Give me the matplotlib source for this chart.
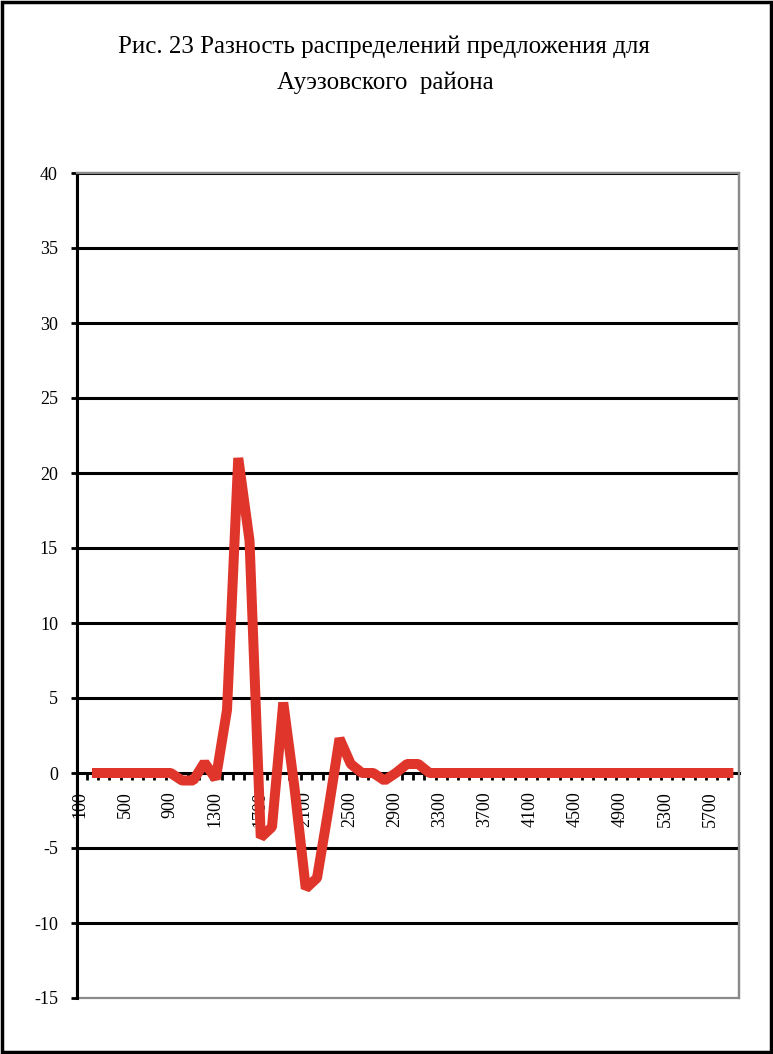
import matplotlib.pyplot as plt
import numpy as np
from matplotlib.patches import Rectangle
from matplotlib.ticker import FixedLocator

# categories: price levels 100..5800, step 100
categories = list(range(100, 5900, 100))
diff_values = [
    0, 0, 0, 0, 0, 0, 0, 0,
    -0.5, -0.5, 0.7, -0.4, 4.2, 21.0, 15.5, -4.3, -3.6, 4.7, -1.0,
    -7.7, -7.0, -2.5, 2.3, 0.6, 0.0, 0.0, -0.5, 0.0, 0.6, 0.6,
    0, 0, 0, 0, 0, 0, 0, 0, 0, 0, 0, 0, 0, 0,
    0, 0, 0, 0, 0, 0, 0, 0, 0, 0, 0, 0, 0, 0,
]
y_ticks = [-15, -10, -5, 0, 5, 10, 15, 20, 25, 30, 35, 40]
title = "Рис. 23 Разность распределений предложения для\nАуэзовского  района"

plt.rcParams["font.family"] = ["Liberation Serif", "DejaVu Serif"]

W, H = 773, 1054
fig = plt.figure(figsize=(W / 100, H / 100), dpi=100, facecolor="white")

# black frame round the whole figure
fig.patches.append(Rectangle((0.003, 0.002), 0.994, 0.996, transform=fig.transFigure,
                             fill=False, edgecolor="black", linewidth=2.5))

line1, line2 = title.split("\n")
fig.text(0.497, 1 - 47 / H, line1, ha="center", va="center", fontsize=18)
fig.text(0.499, 1 - 83 / H, line2, ha="center", va="center", fontsize=18)

left, right, top, bottom = 77, 739, 173, 998
ax = fig.add_axes([left / W, 1 - bottom / H, (right - left) / W, (bottom - top) / H])

x = np.arange(len(diff_values))
ax.set_xlim(-1.33, 57.5)
ax.set_ylim(-15, 40)

for yv in y_ticks[1:]:
    if yv != 0:
        ax.axhline(yv, color="black", linewidth=2.2, zorder=1)

ax.plot(x, diff_values, color="#E0352B", linewidth=7.2, solid_joinstyle="bevel",
        solid_capstyle="butt", zorder=3, clip_on=False)

# spines: black left axis, x axis crossing at zero, grey box elsewhere
ax.spines["left"].set_linewidth(2.2)
ax.spines["left"].set_color("black")
ax.spines["bottom"].set_position(("data", 0))
ax.spines["bottom"].set_linewidth(2.2)
ax.spines["bottom"].set_color("black")
ax.spines["bottom"].set_zorder(2)
for s in ("top", "right"):
    ax.spines[s].set_color("#8a8a8a")
    ax.spines[s].set_linewidth(1.6)
ax.add_patch(Rectangle((0, 0), 1, 1, transform=ax.transAxes, fill=False,
                       edgecolor="#8a8a8a", linewidth=1.6, clip_on=False, zorder=0))

ax.set_yticks(y_ticks)
ax.set_yticklabels([str(v) for v in y_ticks])
ax.tick_params(axis="y", direction="out", length=4.3, width=2, pad=9.4, labelsize=13)

label_pos = [i - 1.07 for i in range(0, len(categories), 4)]
ax.set_xticks(label_pos)
ax.set_xticklabels([str(c) for c in categories[::4]], rotation=90, va="top", ha="center")
ax.xaxis.set_minor_locator(FixedLocator([i - 0.45 for i in range(len(categories))]))
ax.tick_params(axis="x", which="major", length=0, pad=13, labelsize=13)
ax.tick_params(axis="x", which="minor", direction="out", length=5, width=2)

fig.savefig("out.png", dpi=100, facecolor="white")
